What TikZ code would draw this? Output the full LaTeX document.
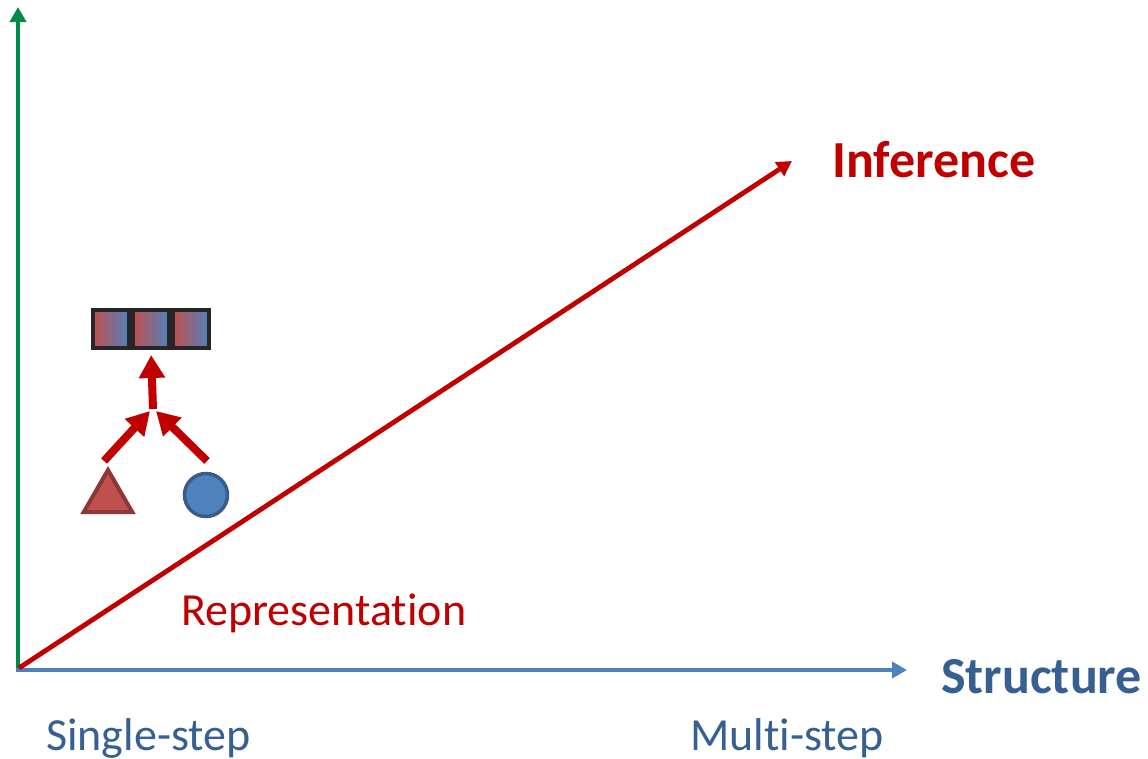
\documentclass[tikz,border=0pt]{standalone}
\usepackage{fontspec}
\setmainfont[Ligatures=NoCommon]{Carlito}
\usetikzlibrary{arrows.meta,shapes.geometric}
\definecolor{axisgreen}{RGB}{0,138,72}
\definecolor{axisblue}{RGB}{79,129,189}
\definecolor{darkred}{RGB}{192,0,0}
\definecolor{textblue}{RGB}{55,96,146}
\definecolor{trifill}{RGB}{192,80,77}
\definecolor{tridraw}{RGB}{140,56,54}
\definecolor{circfill}{RGB}{79,129,189}
\definecolor{circdraw}{RGB}{56,93,138}
\definecolor{boxdraw}{RGB}{38,38,38}
\tikzset{
  axisline/.style={line width=4.8pt, -{Triangle[length=15pt,width=16pt]}},
  bigarrow/.style={line width=8pt, draw=darkred, -{Triangle[length=23pt,width=25pt]}},
  vecbox/.style={draw=boxdraw, line width=4pt, minimum width=36pt, minimum height=38pt, inner sep=0pt,
    left color=trifill, right color=circfill, shading angle=90},
  bigtitle/.style={font=\fontsize{52}{60}\selectfont\bfseries, anchor=base west, inner sep=0pt},
  smalltitle/.style={font=\fontsize{46}{54}\selectfont, anchor=base west, inner sep=0pt},
}
\begin{document}
\begin{tikzpicture}[x=1pt,y=-1pt]
\useasboundingbox (0,0) rectangle (1148,758);
\fill[white] (0,0) rectangle (1148,758);
% axes
\coordinate (O) at (19,668);
\coordinate (Og) at (18,672);
\coordinate (Ob) at (16,670);
\coordinate (ytop) at (18,7);
\coordinate (xend) at (907,670);
\coordinate (infend) at (792,161);
\draw[axisline, draw=axisgreen, fill=axisgreen] (Og) -- (ytop);
\draw[axisline, draw=axisblue, fill=axisblue] (Ob) -- (xend);
\draw[axisline, draw=darkred, fill=darkred] (O) -- (infend);
% labels
\node[bigtitle, text=darkred] (inf) at (832,177) {Inference};
\node[bigtitle, text=textblue] (struct) at (941,693) {Structure};
\node[smalltitle, text=darkred] (rep) at (181,625) {Representation};
\node[smalltitle, text=textblue] (single) at (46,750) {Single-step};
\node[smalltitle, text=textblue] (multi) at (690,750) {Multi-step};
% vector of boxes
\node[vecbox] (b1) at (111,329) {};
\node[vecbox] (b2) at (151,329) {};
\node[vecbox] (b3) at (191,329) {};
% triangle and circle
\node[regular polygon, regular polygon sides=3, minimum size=56pt, inner sep=0pt,
  fill=trifill, draw=tridraw, line width=4pt] (tri) at (108,498) {};
\node[circle, minimum size=43pt, inner sep=0pt, fill=circfill, draw=circdraw, line width=3.5pt] (circ) at (206,495) {};
% arrows
\coordinate (j) at (153,409);
\coordinate (ls) at (104,461);
\coordinate (rs) at (207,461);
\coordinate (jl) at (150,411);
\coordinate (jr) at (156,411);
\draw[bigarrow] (ls) -- (jl);
\draw[bigarrow] (rs) -- (jr);
\draw[bigarrow, shorten >=5pt] (j) -- (b2.south);
\end{tikzpicture}
\end{document}
